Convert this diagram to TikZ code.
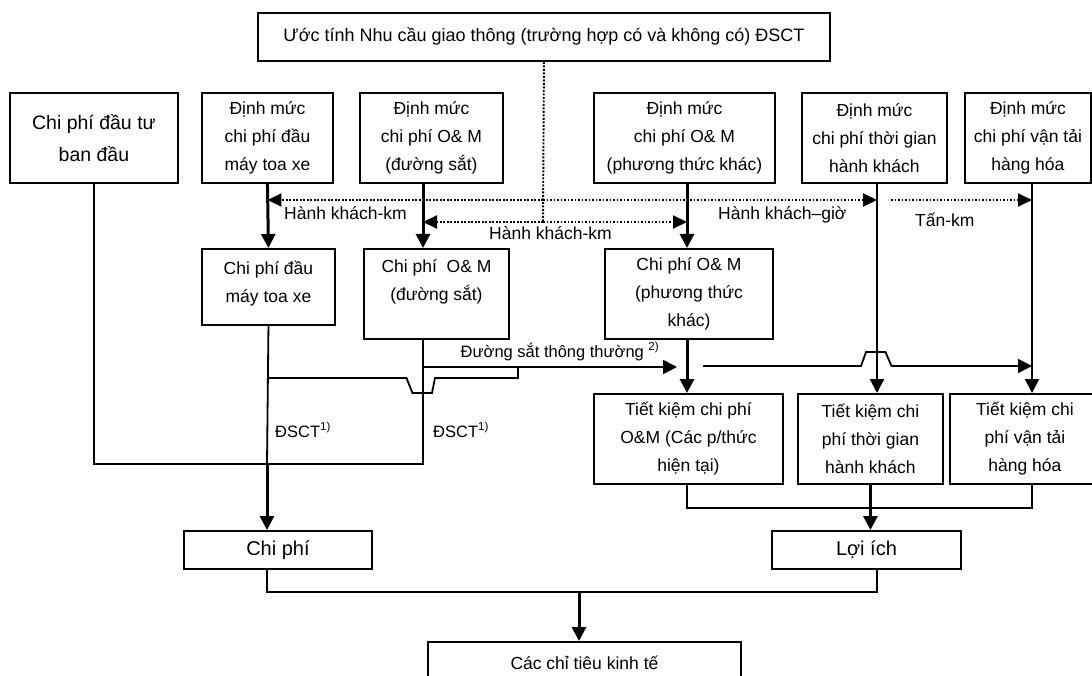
\documentclass[tikz,border=0pt]{standalone}
\usepackage{fontspec}
\setmainfont{Liberation Sans}
\usetikzlibrary{arrows.meta}
\tikzset{
  box/.style={draw, line width=1.9pt, align=center, inner sep=0pt, anchor=north west,
    font=\fontsize{17.5}{28}\selectfont},
  bigbox/.style={box, font=\fontsize{20}{32}\selectfont},
  lbl/.style={inner sep=0pt, anchor=base west, font=\fontsize{17.5}{21}\selectfont}
}
\tikzset{
  thinline/.style={line width=1.8pt},
  arrowline/.style={line width=2.2pt, -{Triangle[length=14pt,width=14pt]}},
  flow/.style={line width=3pt, -{Triangle[length=14pt,width=14pt]}},
  dotline/.style={line width=1.9pt, dash pattern=on 1.9pt off 1.6pt},
  dotarrow/.style={dotline, -{Triangle[length=14pt,width=13pt]}}
}
\begin{document}
\begin{tikzpicture}[x=1pt,y=-1pt]
  \path[use as bounding box] (0,0) rectangle (1092,676);
  \clip (0,0) rectangle (1092,676);
  % boxes, placed by their top left corners
  \node[box, minimum width=572pt, minimum height=48pt, font=\fontsize{18}{22}\selectfont] (demand) at (257,12)
    {Ước tính Nhu cầu giao thông (trường hợp có và không có) ĐSCT};
  \node[bigbox, minimum width=168pt, minimum height=90pt, font=\fontsize{19.5}{32}\selectfont] (invest) at (9,92)
    {Chi phí đầu tư\\ban đầu};
  \node[box, minimum width=131pt, minimum height=90pt] (normstock) at (201,92)
    {Định mức\\chi phí đầu\\máy toa xe};
  \node[box, minimum width=143pt, minimum height=90pt] (normrail) at (359,92)
    {Định mức\\chi phí O\& M\\(đường sắt)};
  \node[box, minimum width=181pt, minimum height=90pt] (normother) at (593,92)
    {Định mức\\chi phí O\& M\\(phương thức khác)};
  \node[box, minimum width=145pt, minimum height=90pt] (normtime) at (801,92)
    {Định mức\\chi phí thời gian\\hành khách};
  \node[box, minimum width=126pt, minimum height=90pt] (normfreight) at (964,92)
    {Định mức\\chi phí vận tải\\hàng hóa};
  \node[box, minimum width=133pt, minimum height=76pt, text depth=10pt] (stock) at (201,248)
    {Chi phí đầu\\máy toa xe};
  \node[box, minimum width=145pt, minimum height=90pt, text depth=27pt] (rail) at (363,248)
    {Chi phí \ O\& M\\(đường sắt)};
  \node[box, minimum width=168pt, minimum height=90pt] (other) at (604,248)
    {Chi phí O\& M\\(phương thức\\khác)};
  \node[box, minimum width=189pt, minimum height=90pt] (saveom) at (593,393)
    {Tiết kiệm chi phí\\O\&M (Các p/thức\\hiện tại)};
  \node[box, minimum width=145pt, minimum height=90pt] (savetime) at (797,393)
    {Tiết kiệm chi\\phí thời gian\\hành khách};
  \node[box, minimum width=150pt, minimum height=90pt] (savefreight) at (949,393)
    {Tiết kiệm chi\\phí vận tải\\hàng hóa};
  \node[bigbox, minimum width=188pt, minimum height=38pt] (cost) at (183,530) {Chi phí};
  \node[bigbox, minimum width=189pt, minimum height=38pt] (benefit) at (771,530) {Lợi ích};
  \node[box, minimum width=313pt, minimum height=42pt] (econ) at (427,641) {Các chỉ tiêu kinh tế};

  % x of the vertical lines and a few joints
  \coordinate (railx) at (423,0);
  \coordinate (otherx) at (687,0);
  \coordinate (timex) at (877,0);
  \coordinate (freightx) at (1032,0);
  \coordinate (pkm) at (543,200);
  \coordinate (pkm2) at (543,222);
  \coordinate (tonkm) at (891,200);
  \coordinate (join) at (267,464);
  \coordinate (hop) at (267,378);
  \coordinate (railjoin) at (518,367);
  \coordinate (railout) at (423,367);
  \coordinate (railtip) at (677,367);
  \coordinate (railon) at (703,366);
  \coordinate (savejoin) at (873,508);
  \coordinate (total) at (579,592);

  % demand figures
  \draw[dotline] (demand.south) -- (pkm2);
  \draw[dotarrow] (pkm) -- (normstock.south |- pkm);
  \draw[dotarrow] (pkm) -- (timex |- pkm);
  \draw[dotarrow] (pkm2) -- (railx |- pkm2);
  \draw[dotarrow] (pkm2) -- (otherx |- pkm2);
  \draw[dotarrow] (tonkm) -- (freightx |- tonkm);
  \node[lbl] (pkmlabel) at (284,220) {Hành khách-km};
  \node[lbl] (pkmlabel2) at (489,240) {Hành khách-km};
  \node[lbl] (phlabel) at (718,220) {Hành khách–giờ};
  \node[lbl] (tonlabel) at (915,227) {Tấn-km};

  \draw[flow] (normstock.south) -- (stock.north);
  \draw[flow] (normrail.south -| railx) -- (rail.north -| railx);
  \draw[flow] (normother.south -| otherx) -- (other.north -| otherx);
  \draw[flow] (other.south -| otherx) -- (saveom.north -| otherx);
  \draw[arrowline] (normtime.south -| timex) -- (savetime.north -| timex);
  \draw[arrowline] (normfreight.south -| freightx) -- (savefreight.north -| freightx);

  % costs
  \draw[thinline] (invest.south) |- (join -| railx) -- (rail.south -| railx);
  \draw[thinline] (stock.south) -- (join);
  \draw[flow] (join) -- (cost.north -| join);
  \node[lbl, font=\fontsize{16.5}{20}\selectfont] (dsct1) at (275,437) {ĐSCT\textsuperscript{1)}};
  \node[lbl, font=\fontsize{16.5}{20}\selectfont] (dsct2) at (433,437) {ĐSCT\textsuperscript{1)}};

  % conventional rail, with the two hops
  \draw[thinline] (hop) -- ++(139.5,0) -- ++(6,15) -- ++(19.5,0) -- ++(3,-15)
    -- (railjoin |- hop) -- (railjoin);
  \draw[arrowline, line width=1.8pt] (railout) -- (railtip);
  \node[lbl, anchor=base, font=\fontsize{16.5}{20}\selectfont] (raillabel) at (560,357)
    {Đường sắt thông thường \textsuperscript{2)}};
  \draw[arrowline, line width=1.8pt] (railon) -- ++(158,0) -- ++(5,-14) -- ++(19.5,0) -- ++(6,14)
    -- (freightx |- railon);

  % benefits and totals
  \draw[thinline] (saveom.south -| otherx) -- (savejoin -| otherx) -- (savejoin -| freightx)
    -- (savefreight.south -| freightx);
  \draw[flow] (savetime.south) -- (benefit.north -| savetime.south);
  \draw[thinline] (cost.south -| join) -- (join |- total) -- (total -| timex)
    -- (benefit.south -| timex);
  \draw[flow] (total) -- (econ.north -| total);
\end{tikzpicture}
\end{document}
